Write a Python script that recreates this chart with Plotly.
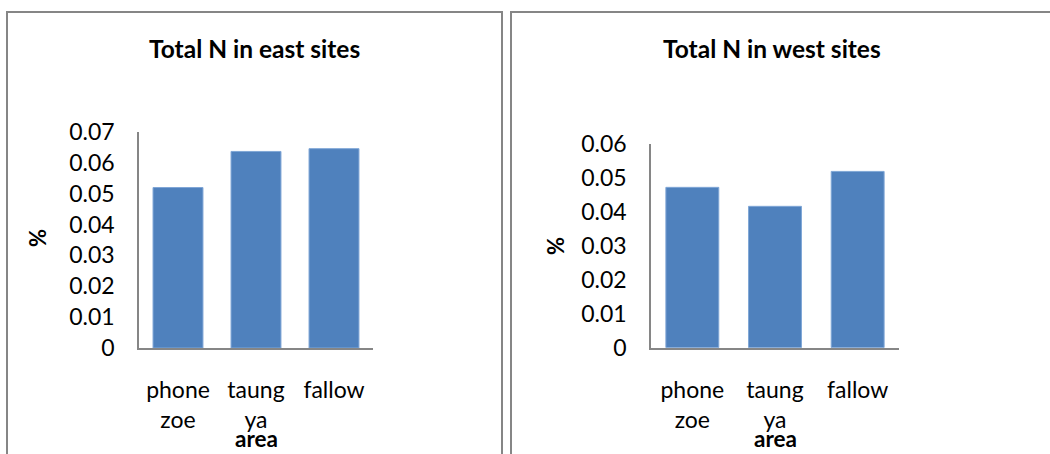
import plotly.graph_objects as go

# Total N (%) by land-use area
categories = ["phone<br>zoe", "taung<br>ya", "fallow"]
east_values = [0.052, 0.0637, 0.0646]
west_values = [0.0473, 0.0417, 0.052]

east_ticks = [0, 0.01, 0.02, 0.03, 0.04, 0.05, 0.06, 0.07]
east_tick_labels = ["0", "0.01", "0.02", "0.03", "0.04", "0.05", "0.06", "0.07"]
west_ticks = [0, 0.01, 0.02, 0.03, 0.04, 0.05, 0.06]
west_tick_labels = ["0", "0.01", "0.02", "0.03", "0.04", "0.05", "0.06"]

W, H = 1050, 454
FONT = "Lato, 'Open Sans', sans-serif"
BAR_COLOR = "#4F81BD"
BAR_EDGE = "#7FA6D6"
AXIS_COLOR = "#868686"


def px_x(x):
    return x / W


def px_y(y):
    return 1 - y / H


fig = go.Figure()

fig.add_trace(go.Bar(
    x=categories, y=east_values, xaxis="x", yaxis="y",
    marker=dict(color=BAR_COLOR, line=dict(color=BAR_EDGE, width=1)),
    showlegend=False,
))
fig.add_trace(go.Bar(
    x=categories, y=west_values, xaxis="x2", yaxis="y2",
    marker=dict(color=BAR_COLOR, line=dict(color=BAR_EDGE, width=1)),
    showlegend=False,
))

common_x = dict(
    showline=True, linecolor=AXIS_COLOR, linewidth=1.5,
    showgrid=False, zeroline=False, ticks="",
    tickfont=dict(family=FONT, size=23, color="#000"),
    ticklabelstandoff=21,
    automargin=False,
    fixedrange=True,
)
common_y = dict(
    showline=True, linecolor=AXIS_COLOR, linewidth=1.5,
    showgrid=False, zeroline=False, ticks="",
    tickfont=dict(family=FONT, size=23, color="#000"),
    ticklabelstandoff=18,
    automargin=False,
    fixedrange=True,
)

fig.update_layout(
    width=W, height=H,
    margin=dict(l=0, r=0, t=0, b=0, pad=0, autoexpand=False),
    paper_bgcolor="white", plot_bgcolor="white",
    bargap=0.36,
    font=dict(family=FONT, color="#000"),
    xaxis=dict(domain=[px_x(139), px_x(373)], anchor="y", **common_x),
    yaxis=dict(domain=[px_y(348), px_y(132)], anchor="x",
               range=[0, 0.07], tickvals=east_ticks, ticktext=east_tick_labels,
               **common_y),
    xaxis2=dict(domain=[px_x(651), px_x(899)], anchor="y2", **common_x),
    yaxis2=dict(domain=[px_y(347.7), px_y(144.3)], anchor="x2",
                range=[0, 0.06], tickvals=west_ticks, ticktext=west_tick_labels,
                **common_y),
)

# Panel frames (open at the bottom edge of the page)
frame_style = dict(color=AXIS_COLOR, width=2)
for left, right in [(7, 502), (511, 1060)]:
    fig.add_shape(
        type="path", xref="paper", yref="paper",
        path=(f"M {px_x(left)},{px_y(470)} L {px_x(left)},{px_y(12)} "
              f"L {px_x(right)},{px_y(12)} L {px_x(right)},{px_y(470)}"),
        line=frame_style,
    )

# Titles and axis labels: (text, x px, y px, size, angle, yanchor)
texts = [
    ("Total N in east sites", 254.5, 48, 24.5, 0, "middle"),
    ("Total N in west sites", 772, 48, 24.5, 0, "middle"),
    ("area", 256, 454, 22.5, 0, "bottom"),
    ("area", 775, 454, 22.5, 0, "bottom"),
    ("%", 38, 238, 22, -90, "middle"),
    ("%", 555, 246, 22, -90, "middle"),
]
for txt, x, y, size, angle, yanchor in texts:
    fig.add_annotation(
        text=f"<b>{txt}</b>", xref="paper", yref="paper",
        x=px_x(x), y=px_y(y), xanchor="center", yanchor=yanchor,
        showarrow=False, textangle=angle,
        font=dict(family=FONT, size=size, color="#000"),
    )

fig.write_html("out.html", config={"displayModeBar": False})
